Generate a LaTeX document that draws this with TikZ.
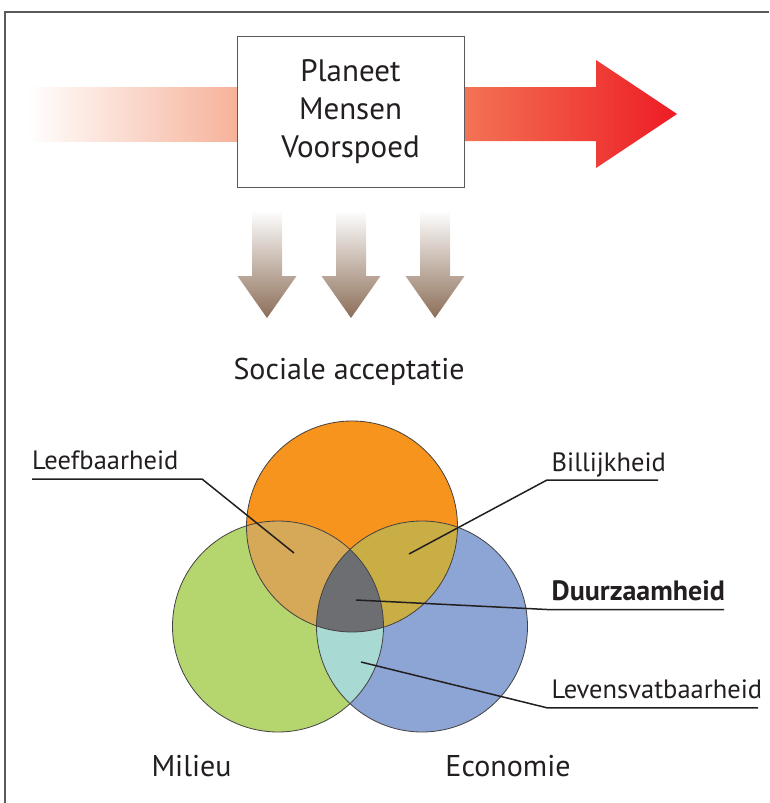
\documentclass[tikz,border=0pt]{standalone}
\usepackage{fontspec}
\setmainfont{PT Sans}
\usetikzlibrary{positioning}
\definecolor{framegray}{RGB}{90, 90, 90}
\definecolor{barpink}{RGB}{246, 178, 154}
\definecolor{arrowlight}{RGB}{243, 115, 85}
\definecolor{arrowred}{RGB}{237, 28, 36}
\definecolor{arrowbrown}{RGB}{140, 110, 88}
\definecolor{vennorange}{RGB}{247, 148, 30}
\definecolor{venngreen}{RGB}{181, 213, 111}
\definecolor{vennblue}{RGB}{141, 165, 212}
\definecolor{vennog}{RGB}{213, 169, 88}
\definecolor{vennob}{RGB}{201, 174, 69}
\definecolor{venngb}{RGB}{168, 218, 211}
\definecolor{venncore}{RGB}{109, 110, 113}
\definecolor{inkblack}{RGB}{35, 31, 32}

\begin{document}
\begin{tikzpicture}[x=1pt, y=-1pt,
    bigtext/.style={font=\fontsize{30}{38}\selectfont, text=inkblack},
    lab/.style={font=\fontsize{26.5}{30}\selectfont, text=inkblack, inner sep=0pt},
    leader/.style={draw=inkblack, line width=1.5pt},
    ring/.style={draw=inkblack!85, line width=0.8pt}]
  \useasboundingbox (0,0) rectangle (769,803);

  % frame
  \draw[framegray, line width=1.5pt] (5,803) -- (5,12) -- (769,12);

  % flow through the box
  \shade[left color=white, right color=barpink] (27,87) rectangle (237,141);
  \shade[left color=arrowlight, right color=arrowred]
    (464,87) -- (596,87) -- (596,60) -- (677,114) -- (596,168) -- (596,141) -- (464,141) -- cycle;
  \node[draw=framegray, fill=white, line width=1pt, minimum width=227pt, minimum height=151pt,
        align=center, bigtext, font=\fontsize{31}{38}\selectfont] (ppp) at (350.5,111.5)
        {Planeet\\Mensen\\Voorspoed};

  % three arrows down
  \foreach \x in {267,351,435}
    \shade[top color=white, bottom color=arrowbrown]
      (\x-15,210) -- (\x+15,210) -- (\x+15,276) -- (\x+29.5,276) -- (\x,318)
      -- (\x-29.5,276) -- (\x-15,276) -- cycle;
  \node[bigtext] (soc) at (349,372) {Sociale acceptatie};

  % venn
  \coordinate (po) at (352,526.5);
  \coordinate (gr) at (278,626.5);
  \coordinate (bl) at (422,626.5);
  \fill[vennorange] (po) circle[radius=105.5pt];
  \fill[venngreen] (gr) circle[radius=105.5pt];
  \fill[vennblue] (bl) circle[radius=105.5pt];
  \begin{scope}
    \clip (po) circle[radius=105.5pt];
    \fill[vennog] (gr) circle[radius=105.5pt];
    \fill[vennob] (bl) circle[radius=105.5pt];
  \end{scope}
  \begin{scope}
    \clip (gr) circle[radius=105.5pt];
    \fill[venngb] (bl) circle[radius=105.5pt];
  \end{scope}
  \begin{scope}
    \clip (po) circle[radius=105.5pt];
    \clip (gr) circle[radius=105.5pt];
    \fill[venncore] (bl) circle[radius=105.5pt];
  \end{scope}
  \foreach \c in {po,gr,bl}
    \draw[ring] (\c) circle[radius=105.5pt];

  % region points
  \coordinate (leefpt) at (294,553);
  \coordinate (billpt) at (409,554);
  \coordinate (duurpt) at (356,600);
  \coordinate (levpt) at (361,662);

  % labels
  \node[lab, anchor=base west] (leef) at (32,469) {Leefbaarheid};
  \node[lab, anchor=base west] (bill) at (551.5,471.5) {Billijkheid};
  \node[lab, anchor=base west, font=\fontsize{28}{30}\selectfont\bfseries] (duur) at (551.5,600.5) {Duurzaamheid};
  \node[lab, anchor=base west] (lev) at (551.5,698.5) {Levensvatbaarheid};

  \draw[leader] ([yshift=-10pt]leef.base west) -- ++(170,0) -- (leefpt);
  \draw[leader] (billpt) -- ([xshift=-4.5pt,yshift=-8.5pt]bill.base west) -- ++(111,0);
  \draw[leader] (duurpt) -- ([xshift=-4.5pt,yshift=-9pt]duur.base west) -- ++(177,0);
  \draw[leader] (levpt) -- ([xshift=-4.5pt,yshift=-9.3pt]lev.base west) -- ++(211,0);

  \node[bigtext, anchor=base] (mil) at (191.5,776.5) {Milieu};
  \node[bigtext, anchor=base] (eco) at (508,776.5) {Economie};
\end{tikzpicture}
\end{document}
